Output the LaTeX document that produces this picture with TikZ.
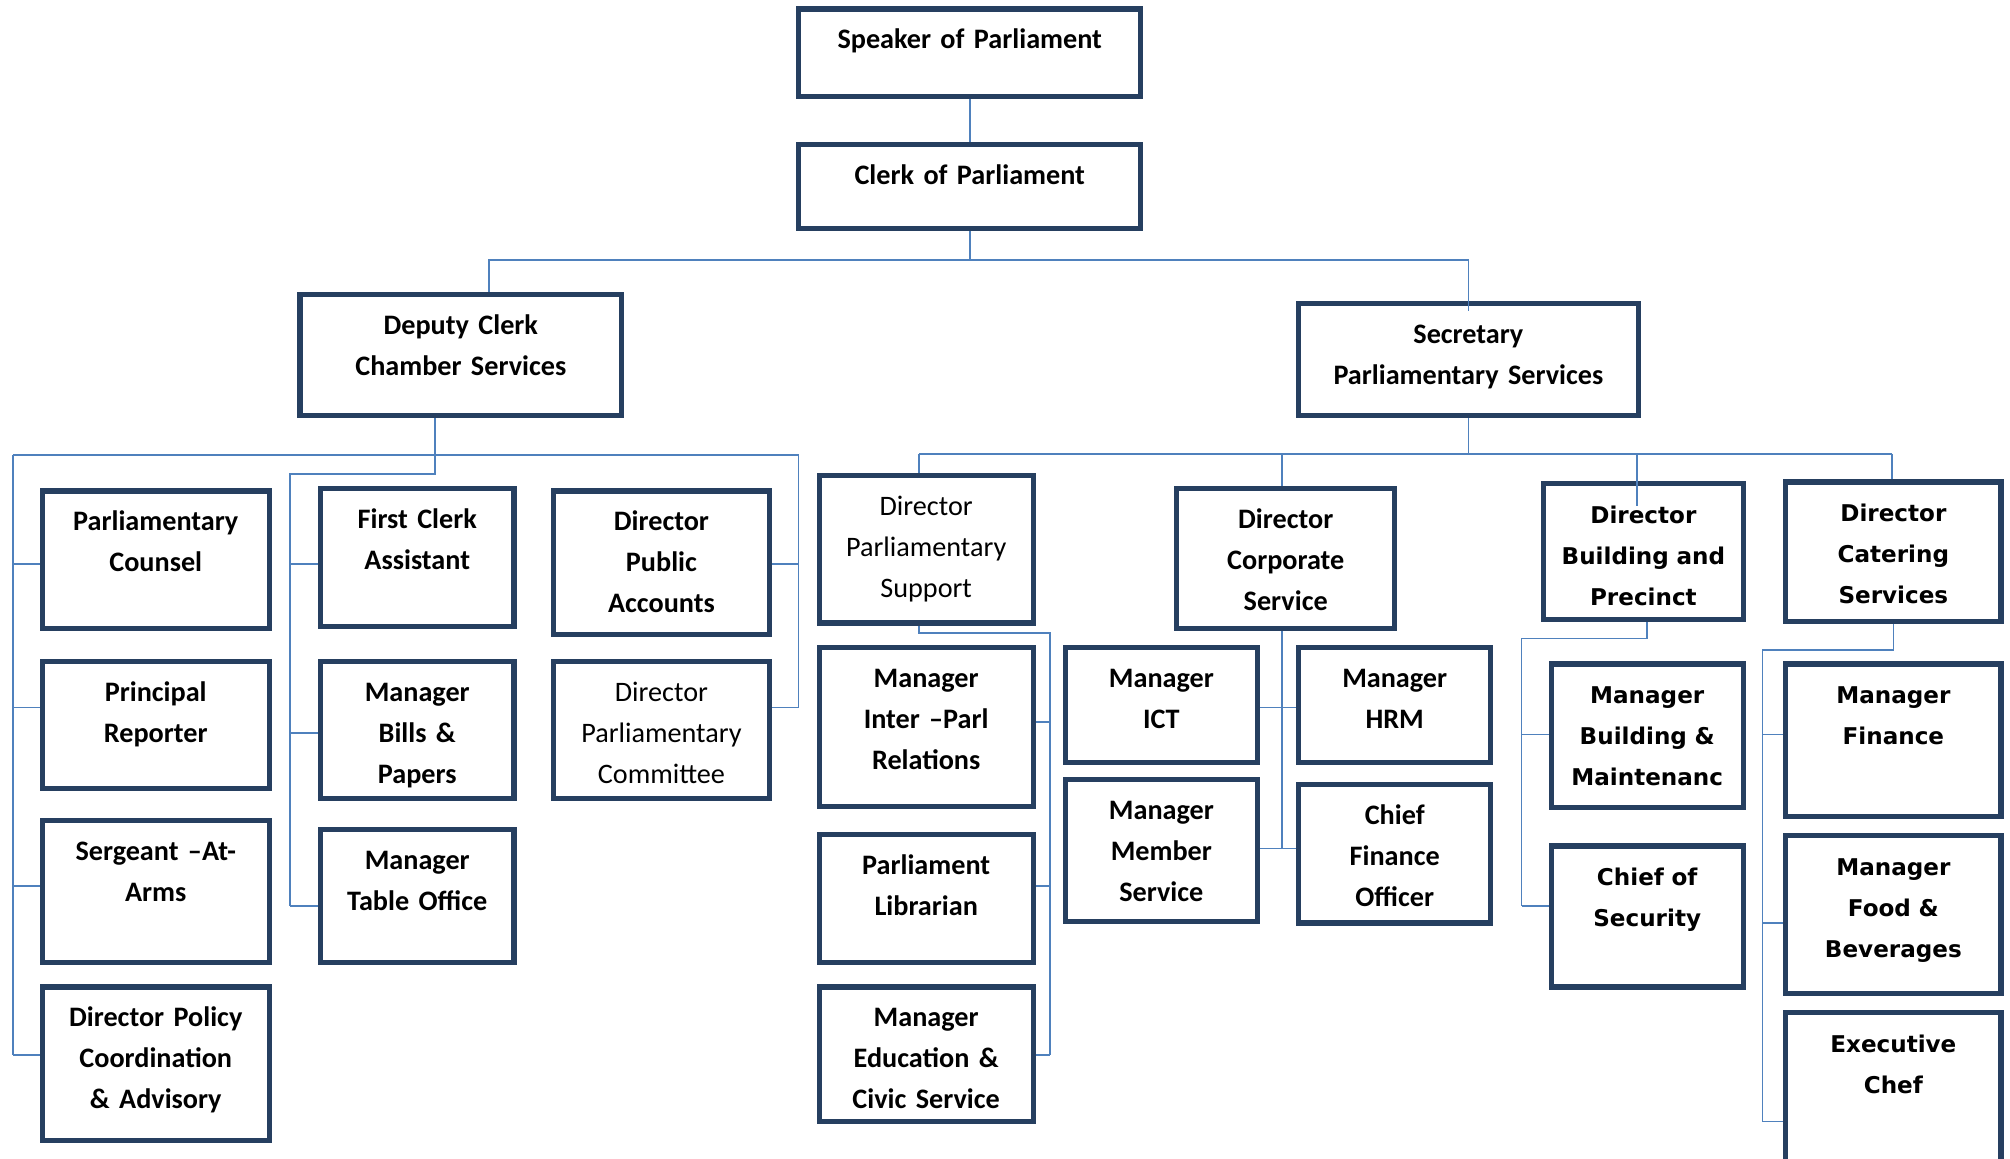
\documentclass[tikz,border=0pt]{standalone}
\usepackage{fontspec}
\setmainfont{Carlito}
\newfontfamily\vfont{DejaVu Sans}
\usetikzlibrary{backgrounds,calc}
\definecolor{navy}{RGB}{38,63,96}
\definecolor{lnk}{RGB}{79,129,189}
\tikzset{
  box/.style={draw=navy, line width=4pt, outer sep=0pt, inner sep=0pt, fill=white},
  conn/.style={draw=lnk, line width=1.3pt},
  txt/.style={anchor=base, inner sep=0pt, text width=300pt, align=center},
  cb/.style={font=\fontsize{22}{32}\selectfont\bfseries},
  cr/.style={font=\fontsize{22}{32}\selectfont},
  vb/.style={font=\vfont\fontsize{18}{32}\selectfont\bfseries},
}
\newcommand{\obox}[7]{%
  \node[box, minimum width={#4-#2}, minimum height={#5-#3}, anchor=north west] (#1) at (#2,#3) {};
  \node[txt,#6] (#1-t) at ([yshift=-31pt]#1.north) {#7};}
\begin{document}
\begin{tikzpicture}[x=1pt,y=-1pt]
\useasboundingbox (0,0) rectangle (1568,904);
% ---- boxes ----
\obox{spk}{623}{7}{890}{75}{cb}{Speaker of Parliament}
\obox{clk}{623}{113}{890}{178}{cb}{Clerk of Parliament}
\obox{dep}{234}{230}{485}{324}{cb}{Deputy Clerk\\Chamber Services}
\obox{sec}{1013}{237}{1278}{324}{cb}{Secretary\\Parliamentary Services}
% chamber services
\obox{pc}{33}{383}{210}{490}{cb}{Parliamentary\\Counsel}
\obox{pr}{33}{516}{210}{615}{cb}{Principal\\Reporter}
\obox{saa}{33}{640}{210}{751}{cb}{Sergeant –At-\\Arms}
\obox{dpol}{33}{770}{210}{890}{cb}{Director Policy\\Coordination\\\& Advisory}
\obox{fca}{250}{381}{401}{489}{cb}{First Clerk\\Assistant}
\obox{mbp}{250}{516}{401}{623}{cb}{Manager\\Bills \&\\Papers}
\obox{mto}{250}{647}{401}{751}{cb}{Manager\\Table Office}
\obox{dpa}{432}{383}{600}{495}{cb}{Director\\Public\\Accounts}
\obox{dpc}{432}{516}{600}{623}{cr}{Director\\Parliamentary\\Committee}
% parliamentary services
\obox{dps}{639}{371}{806}{486}{cr}{Director\\Parliamentary\\Support}
\obox{mip}{639}{505}{806}{629}{cb}{Manager\\Inter –Parl\\Relations}
\obox{lib}{639}{651}{806}{751}{cb}{Parliament\\Librarian}
\obox{med}{639}{770}{806}{875}{cb}{Manager\\Education \&\\Civic Service}
\obox{dcs}{918}{381}{1088}{490}{cb}{Director\\Corporate\\Service}
\obox{ict}{831}{505}{981}{595}{cb}{Manager\\ICT}
\obox{hrm}{1013}{505}{1163}{595}{cb}{Manager\\HRM}
\obox{mms}{831}{608}{981}{719}{cb}{Manager\\Member\\Service}
\obox{cfo}{1013}{612}{1163}{720}{cb}{Chief\\Finance\\Officer}
\obox{dbp}{1204}{377}{1360}{483}{vb}{Director\\Building and\\Precinct}
\obox{mbm}{1210}{518}{1360}{630}{vb}{Manager\\Building \&\\Maintenanc}
\obox{cos}{1210}{660}{1360}{770}{vb}{Chief of\\Security}
\obox{dcat}{1393}{376}{1561}{485}{vb}{Director\\Catering\\Services}
\obox{mfin}{1393}{518}{1561}{637}{vb}{Manager\\Finance}
\obox{mfb}{1393}{652}{1561}{775}{vb}{Manager\\Food \&\\Beverages}
\obox{chef}{1393}{790}{1561}{930}{vb}{Executive\\Chef}
% ---- bus coordinates ----
\coordinate (LB) at (10,355);  \coordinate (RB) at (623,355);
\coordinate (MB) at (226,370);
\coordinate (l1) at (10,440);  \coordinate (l2) at (10,552);
\coordinate (l3) at (10,691);  \coordinate (l4) at (10,823);
\coordinate (m1) at (226,440); \coordinate (m2) at (226,572); \coordinate (m3) at (226,707);
\coordinate (r1) at (623,440); \coordinate (r2) at (623,552);
\coordinate (S1) at (717,354); \coordinate (S2) at (1000,354);
\coordinate (S3) at (1277,354); \coordinate (S4) at (1476,354);
\coordinate (P0) at (819,494); \coordinate (P1) at (819,563);
\coordinate (P2) at (819,691); \coordinate (P3) at (819,823);
\coordinate (C1) at (1000,552); \coordinate (C2) at (1000,662);
\coordinate (B0) at (1187,498); \coordinate (B1) at (1187,573); \coordinate (B2) at (1187,707);
\coordinate (K0) at (1375,507); \coordinate (K1) at (1375,573);
\coordinate (K2) at (1375,720); \coordinate (K3) at (1375,875);
% ---- connectors ----
\begin{pgfonlayer}{background}
\draw[conn] (spk.south) -- (clk.north);
\draw[conn] (clk.south) -- ++(0,25) coordinate (j1);
\draw[conn] (j1) -| ([xshift=22pt]dep.north);
% chamber services
\draw[conn] ([xshift=-20pt]dep.south) coordinate (d0) -- (d0 |- MB) -- (MB) -- (m3);
\draw[conn] (LB) -- (RB);
\draw[conn] (LB) -- (l4);
\draw[conn] (RB) -- (r2);
\foreach \c/\n in {l1/pc,l2/pr,l3/saa,l4/dpol,m1/fca,m2/mbp,m3/mto}
  \draw[conn] (\c) -- (\c -| \n.west);
\foreach \c/\n in {r1/dpa,r2/dpc}
  \draw[conn] (\c) -- (\c -| \n.east);
% parliamentary services
\draw[conn] (sec.south) -- (sec.south |- S1);
\draw[conn] (S1) -- (S4);
\draw[conn] (S1) -- (S1 |- dps.north);
\draw[conn] (S2) -- (S2 |- dcs.north);
\draw[conn] (S4) -- (S4 |- dcat.north);
\draw[conn] (dps.south -| S1) -- (S1 |- P0) -- (P0) -- (P3);
\foreach \c/\n in {P1/mip,P2/lib,P3/med}
  \draw[conn] (\c) -- (\c -| \n.east);
\draw[conn] (dcs.south -| C1) -- (C2);
\draw[conn] (C1 -| ict.east) -- (C1 -| hrm.west);
\draw[conn] (C2 -| mms.east) -- (C2 -| cfo.west);
\draw[conn] ([xshift=3pt]dbp.south) coordinate (bb) -- (bb |- B0) -- (B0) -- (B2);
\foreach \c/\n in {B1/mbm,B2/cos}
  \draw[conn] (\c) -- (\c -| \n.west);
\draw[conn] (dcat.south) -- (dcat.south |- K0) -- (K0) -- (K3);
\foreach \c/\n in {K1/mfin,K2/mfb,K3/chef}
  \draw[conn] (\c) -- (\c -| \n.west);
\end{pgfonlayer}
% lines that run over box tops
\draw[conn] (j1) -| ([yshift=-6pt]sec.north);
\draw[conn] (S3) -- ([yshift=-18pt]S3 |- dbp.north);
\end{tikzpicture}
\end{document}
